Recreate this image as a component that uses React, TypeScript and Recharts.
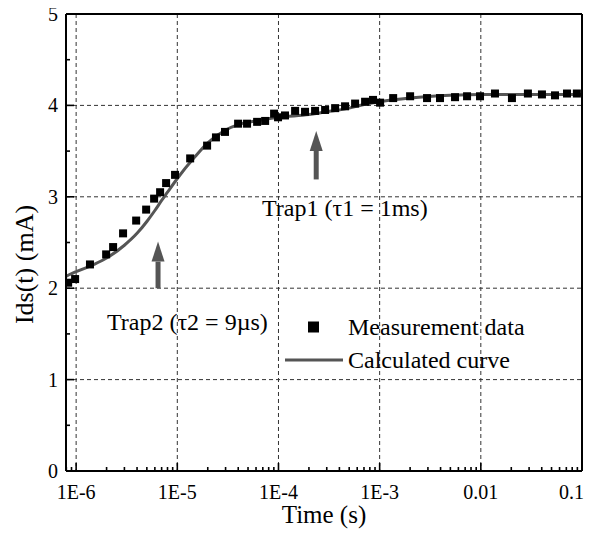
import React from 'react';
import {
  ComposedChart, Line, Scatter, XAxis, YAxis, CartesianGrid, Legend, ReferenceLine, ReferenceDot,
} from 'recharts';

// ---------- data ----------
const measT = [
  8.34e-7, 9.77e-7, 1.37e-6, 1.98e-6, 2.32e-6, 2.91e-6, 3.92e-6, 4.92e-6, 5.9e-6, 6.76e-6,
  7.75e-6, 9.5e-6, 1.34e-5, 1.97e-5, 2.41e-5, 2.96e-5, 3.99e-5, 4.89e-5, 6.15e-5, 7.38e-5,
  9.05e-5, 9.9e-5, 1.16e-4, 1.46e-4, 1.83e-4, 2.3e-4, 2.89e-4, 3.63e-4, 4.55e-4, 5.72e-4,
  7.18e-4, 8.6e-4, 1.01e-3, 1.36e-3, 2.0e-3, 2.94e-3, 3.95e-3, 5.56e-3, 7.31e-3, 9.82e-3,
  1.38e-2, 2.03e-2, 2.92e-2, 4.02e-2, 5.41e-2, 7.11e-2, 8.9e-2,
];
const measV = [
  2.06, 2.10, 2.26, 2.37, 2.45, 2.60, 2.74, 2.86, 2.98, 3.05,
  3.15, 3.24, 3.42, 3.56, 3.65, 3.71, 3.80, 3.80, 3.82, 3.83,
  3.91, 3.87, 3.89, 3.94, 3.93, 3.94, 3.95, 3.97, 3.99, 4.02,
  4.04, 4.06, 4.03, 4.08, 4.10, 4.08, 4.08, 4.09, 4.10, 4.10,
  4.13, 4.08, 4.13, 4.12, 4.11, 4.13, 4.13,
];
const curveT = [
  7.94e-7, 1e-6, 1.5e-6, 2e-6, 3e-6, 4e-6, 5e-6, 6e-6, 7e-6, 8e-6, 1e-5, 1.5e-5, 2e-5, 3e-5,
  4e-5, 6e-5, 1e-4, 2e-4, 3e-4, 5e-4, 7e-4, 1e-3, 2e-3, 5e-3, 1e-2, 1e-1,
];
const curveV = [
  2.13, 2.18, 2.26, 2.33, 2.47, 2.60, 2.73, 2.85, 2.96, 3.05, 3.20, 3.44, 3.59, 3.73,
  3.79, 3.83, 3.87, 3.90, 3.93, 3.97, 4.01, 4.04, 4.08, 4.11, 4.12, 4.12,
];

const xMajor = [1e-6, 1e-5, 1e-4, 1e-3, 1e-2, 1e-1];
const xMajorLabels = ['1E-6', '1E-5', '1E-4', '1E-3', '0.01', '0.1'];
const xMinorFactors = [2, 3, 4, 5, 6, 7, 8, 9];
const xDomain = [7.94e-7, 0.1];
const yTicks = [0, 0.5, 1, 1.5, 2, 2.5, 3, 3.5, 4, 4.5, 5];
const yMajor = [0, 1, 2, 3, 4, 5];
const yGrid = [1, 2, 3, 4];
const xGrid = [1e-6, 1e-5, 1e-4, 1e-3, 1e-2];

const arrows = [
  { t: 6.45e-6, from: 2.0, to: 2.51 },
  { t: 2.36e-4, from: 3.19, to: 3.72 },
];
const notes = [
  { t: 2.02e-6, v: 1.63, text: 'Trap2 (\u03C42 = 9\u00B5s)' },
  { t: 6.88e-5, v: 2.88, text: 'Trap1 (\u03C41 = 1ms)' },
];

// ---------- derived tables ----------
const measData = measT.map((t, i) => ({ t, v: measV[i] }));
const curveData = curveT.map((t, i) => ({ t, v: curveV[i] }));
const xTicks: number[] = [];
for (let d = 0; d < xMajor.length; d++) {
  xTicks.push(xMajor[d]);
  if (d < xMajor.length - 1) xMinorFactors.forEach((f) => xTicks.push(+(xMajor[d] * f).toPrecision(3)));
}
xTicks.push(8e-7, 9e-7);
xTicks.sort((a, b) => a - b);

const FONT = '"Liberation Serif", "Times New Roman", serif';
const majorIndex = (v: number) => xMajor.findIndex((m) => Math.abs(v / m - 1) < 1e-6);
const isMajorY = (v: number) => yMajor.includes(v);

const BottomTick = (p: any) => {
  const { x, y, payload } = p;
  const idx = majorIndex(payload.value);
  const major = idx >= 0;
  const last = idx === xMajor.length - 1;
  return (
    <g>
      <line x1={x} x2={x} y1={y} y2={y - (major ? 8 : 4)} stroke="#000" strokeWidth={1.6} />
      {major && (
        <text
          x={last ? x + 2 : x}
          y={y + 21}
          dy="0.35em"
          textAnchor={last ? 'end' : 'middle'}
          fontFamily={FONT}
          fontSize={20}
          fill="#000"
        >
          {xMajorLabels[idx]}
        </text>
      )}
    </g>
  );
};
const TopTick = (p: any) => {
  const { x, y, payload } = p;
  const major = majorIndex(payload.value) >= 0;
  return <line x1={x} x2={x} y1={y} y2={y + (major ? 8 : 4)} stroke="#000" strokeWidth={1.6} />;
};
const LeftTick = (p: any) => {
  const { x, y, payload } = p;
  const major = isMajorY(payload.value);
  return (
    <g>
      <line x1={x} x2={x + (major ? 8 : 4)} y1={y} y2={y} stroke="#000" strokeWidth={1.6} />
      {major && (
        <text x={x - 8} y={y} dy="0.35em" textAnchor="end" fontFamily={FONT} fontSize={20} fill="#000">
          {payload.value}
        </text>
      )}
    </g>
  );
};
const RightTick = (p: any) => {
  const { x, y, payload } = p;
  const major = isMajorY(payload.value);
  return <line x1={x} x2={x - (major ? 8 : 4)} y1={y} y2={y} stroke="#000" strokeWidth={1.6} />;
};

const Square = (p: any) => <rect x={p.cx - 4} y={p.cy - 4} width={8} height={8} fill="#000" />;

const ArrowShape = (p: any) => {
  const { x1, y1, x2, y2 } = p;
  const headLen = 20;
  const baseY = y2 + headLen;
  return (
    <g>
      <line x1={x1} y1={y1} x2={x2} y2={baseY} stroke="#555" strokeWidth={5} />
      <polygon points={`${x2},${y2} ${x2 - 6.5},${baseY} ${x2 + 6.5},${baseY}`} fill="#555" />
    </g>
  );
};

const LegendContent = (props: any) => {
  const payload = [...(props.payload || [])].sort(
    (a: any, b: any) => (a.type === 'square' ? 0 : 1) - (b.type === 'square' ? 0 : 1),
  );
  return (
    <svg width={320} height={70} style={{ display: 'block' }}>
      {payload.map((e: any, i: number) => {
        const cy = 17 + i * 33;
        return (
          <g key={i}>
            {e.type === 'square' ? (
              <rect x={30} y={cy - 5.5} width={11} height={11} fill="#000" />
            ) : (
              <line x1={7} x2={65} y1={cy} y2={cy} stroke="#555" strokeWidth={3} />
            )}
            <text x={70} y={cy} dy="0.35em" fontFamily={FONT} fontSize={24} fill="#000">
              {e.value}
            </text>
          </g>
        );
      })}
    </svg>
  );
};

export default function App() {
  return (
    <ComposedChart
      width={594}
      height={547}
      margin={{ top: 13, right: 11, left: 0, bottom: 0 }}
      style={{ fontFamily: FONT, marginTop: -8, marginLeft: -8 }}
    >
      <CartesianGrid
        stroke="#333"
        strokeDasharray="4 3"
        strokeWidth={1}
        verticalValues={xGrid}
        horizontalValues={yGrid}
      />
      <XAxis
        dataKey="t"
        type="number"
        scale="log"
        domain={xDomain}
        allowDataOverflow
        ticks={xTicks}
        interval={0}
        tickSize={0}
        tickMargin={0}
        tickLine={false}
        tick={BottomTick}
        axisLine={{ stroke: '#000', strokeWidth: 2 }}
        height={76}
        label={{
          content: (lp: any) => {
            const vb = lp.viewBox;
            return (
              <text x={vb.x + vb.width / 2} y={vb.y + 43} dy="0.35em" textAnchor="middle" fontFamily={FONT} fontSize={25} fill="#000">
                Time (s)
              </text>
            );
          },
        }}
      />
      <XAxis
        xAxisId="top"
        orientation="top"
        type="number"
        scale="log"
        domain={xDomain}
        allowDataOverflow
        ticks={xTicks}
        interval={0}
        tickSize={0}
        tickMargin={0}
        tickLine={false}
        tick={TopTick}
        axisLine={{ stroke: '#000', strokeWidth: 2 }}
        height={1}
      />
      <YAxis
        dataKey="v"
        type="number"
        domain={[0, 5]}
        ticks={yTicks}
        interval={0}
        tickSize={0}
        tickMargin={0}
        tickLine={false}
        tick={LeftTick}
        axisLine={{ stroke: '#000', strokeWidth: 2 }}
        width={66}
        label={{
          content: (lp: any) => {
            const vb = lp.viewBox;
            const cx = vb.x + 24;
            const cy = vb.y + vb.height / 2 + 22;
            return (
              <text x={cx} y={cy} dy="0.35em" textAnchor="middle" transform={`rotate(-90, ${cx}, ${cy})`} fontFamily={FONT} fontSize={26} fill="#000">
                Ids(t) (mA)
              </text>
            );
          },
        }}
      />
      <YAxis
        yAxisId="r"
        orientation="right"
        type="number"
        domain={[0, 5]}
        ticks={yTicks}
        interval={0}
        tickSize={0}
        tickMargin={0}
        tickLine={false}
        tick={RightTick}
        axisLine={{ stroke: '#000', strokeWidth: 2 }}
        width={1}
      />
      <Scatter
        name="Measurement data"
        data={measData}
        dataKey="v"
        legendType="square"
        fill="#000"
        shape={Square}
        isAnimationActive={false}
      />
      <Line
        name="Calculated curve"
        data={curveData}
        dataKey="v"
        type="monotone"
        stroke="#555"
        strokeWidth={3}
        dot={false}
        activeDot={false}
        legendType="line"
        isAnimationActive={false}
      />
      {arrows.map((a, i) => (
        <ReferenceLine
          key={'a' + i}
          segment={[{ x: a.t, y: a.from }, { x: a.t, y: a.to }]}
          shape={ArrowShape}
          ifOverflow="visible"
        />
      ))}
      {notes.map((n, i) => (
        <ReferenceDot
          key={'n' + i}
          x={n.t}
          y={n.v}
          r={0}
          ifOverflow="visible"
          shape={(p: any) => (
            <text x={p.cx} y={p.cy} dy="0.35em" textAnchor="start" fontFamily={FONT} fontSize={24} fill="#000">
              {n.text}
            </text>
          )}
        />
      ))}
      <Legend
        layout="vertical"
        verticalAlign="middle"
        align="center"
        content={LegendContent}
        wrapperStyle={{ position: 'absolute', left: 278, top: 310, width: 320, height: 70 }}
      />
    </ComposedChart>
  );
}
